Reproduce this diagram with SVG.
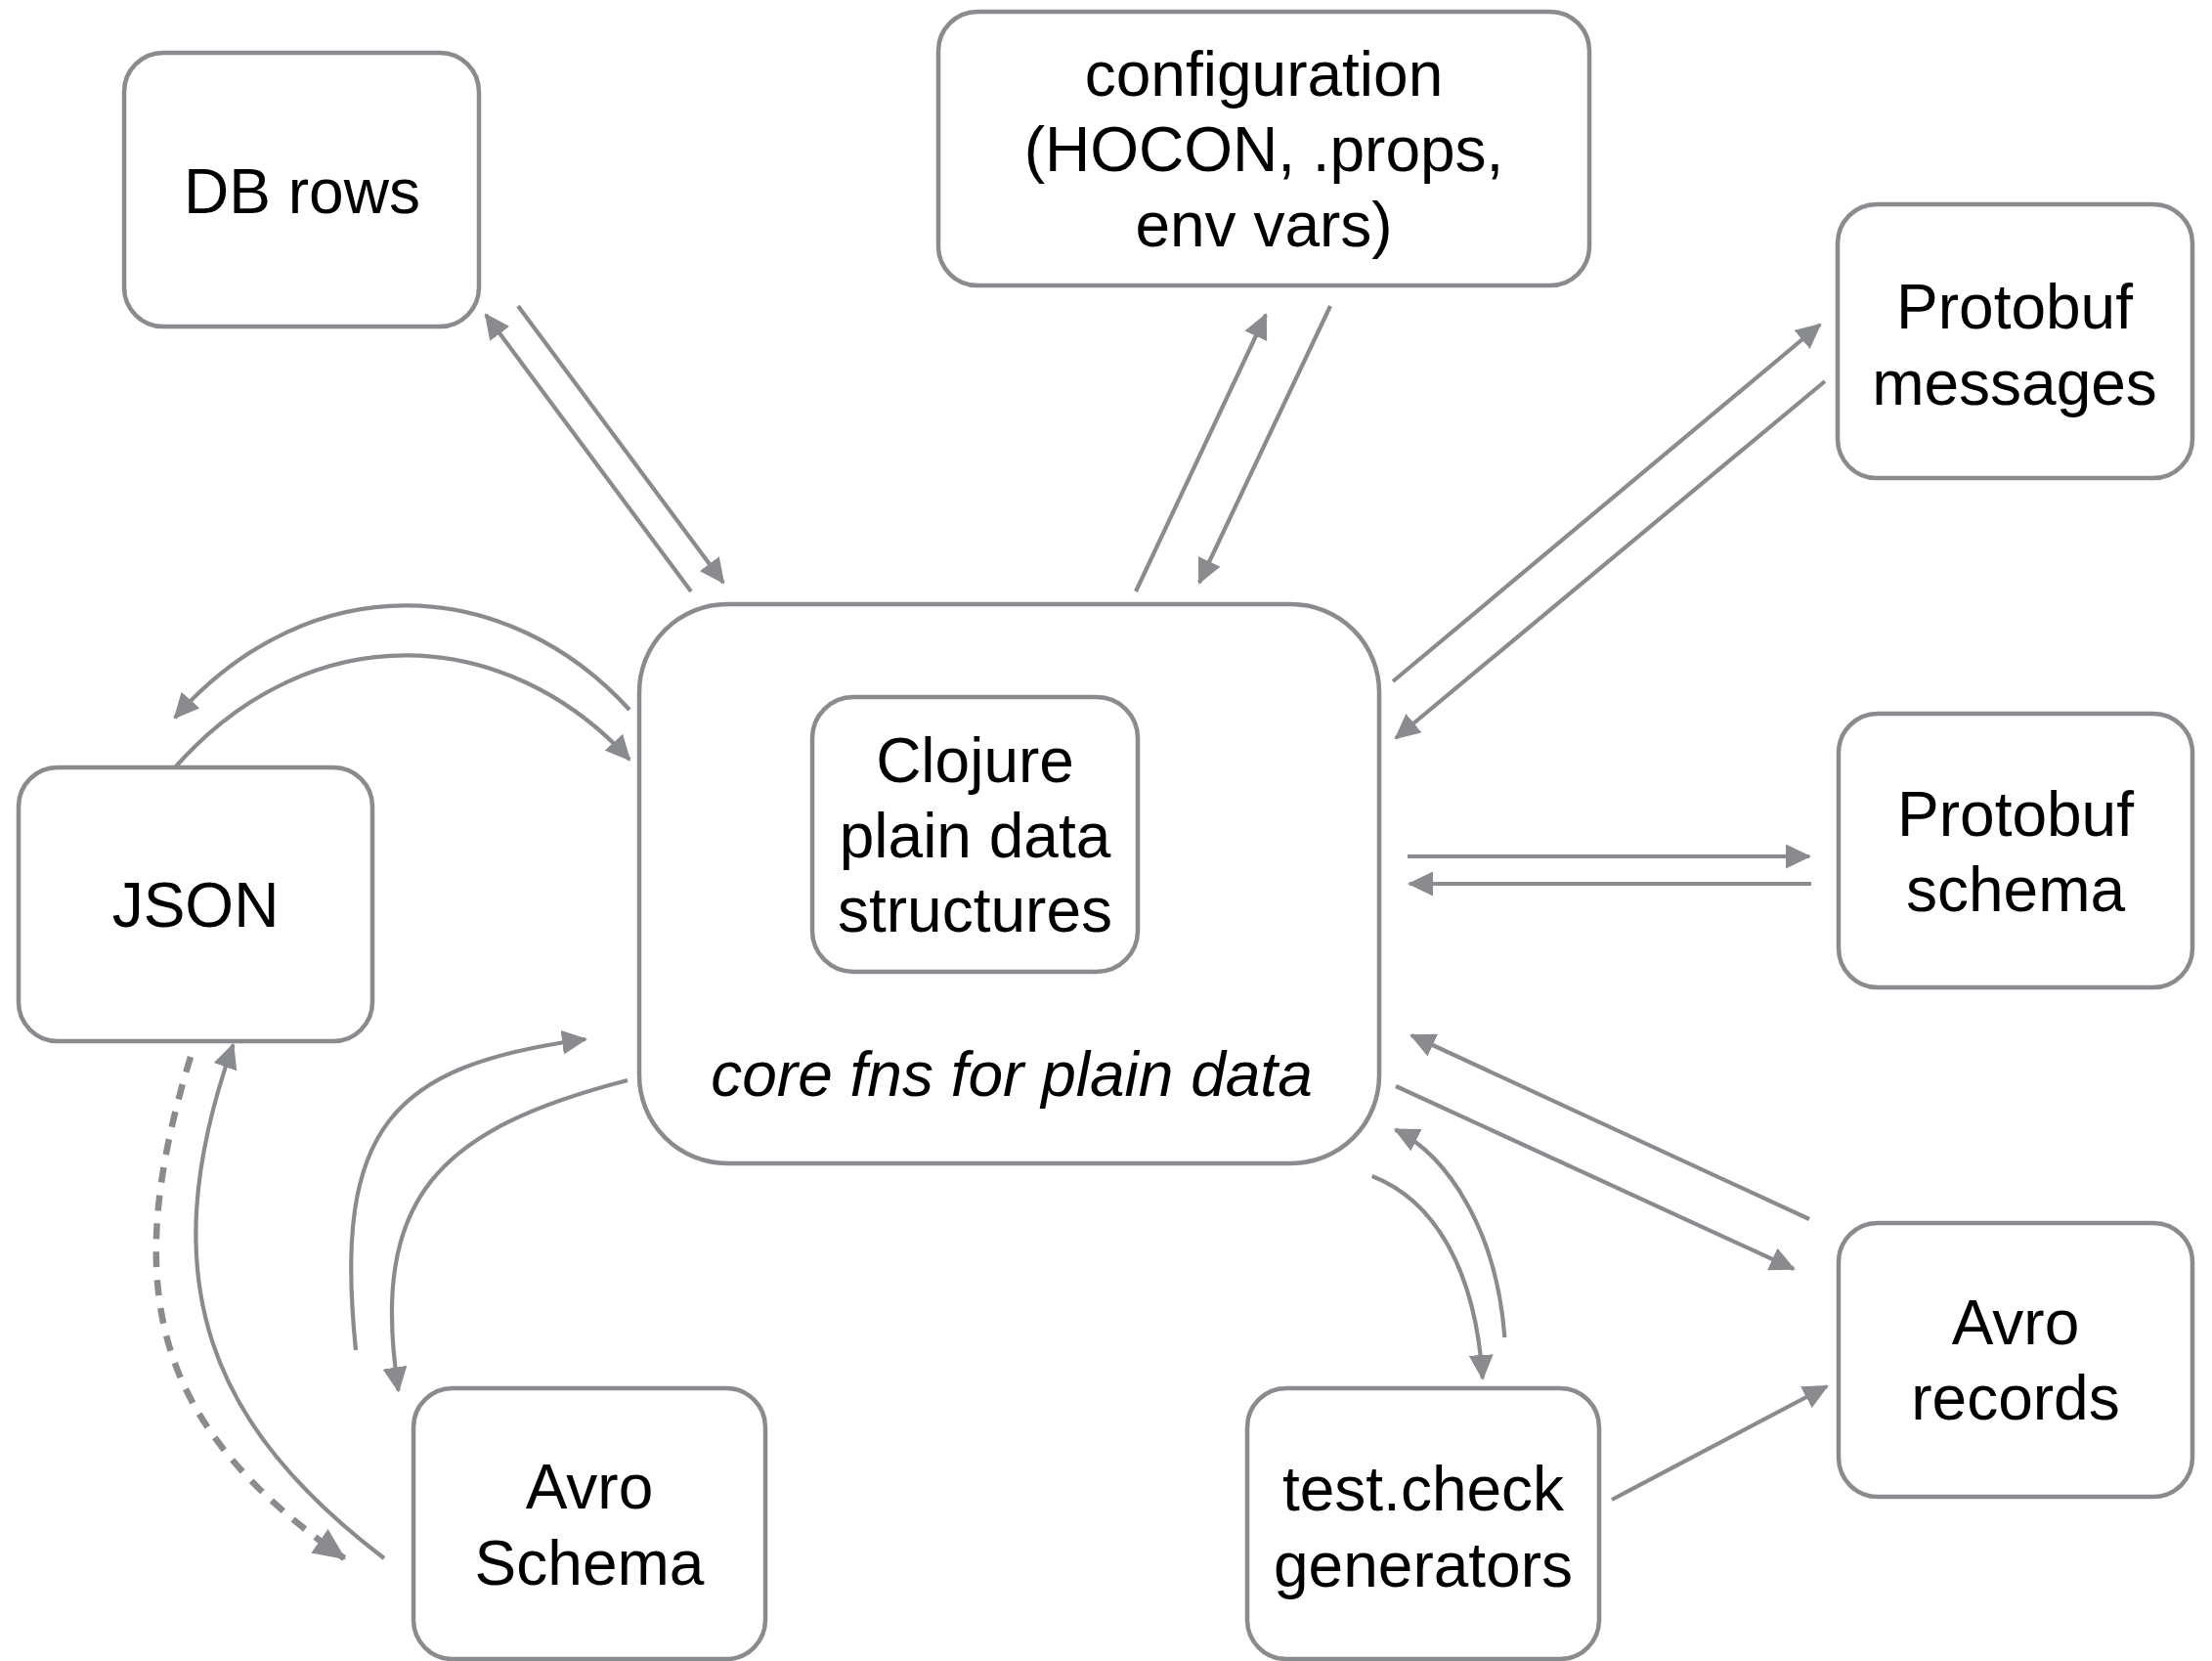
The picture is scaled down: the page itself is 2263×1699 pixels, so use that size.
<svg xmlns="http://www.w3.org/2000/svg" width="2263" height="1699" viewBox="0 0 2263 1699">
<style>
.box{fill:#fff;stroke:#898b8f;stroke-width:4.5}
.lbl{font-family:"Liberation Sans",Arial,sans-serif;font-size:64px;fill:#000;text-anchor:middle}
.it{font-style:italic}
.c{fill:none;stroke:#898b8f;stroke-width:4.2;marker-end:url(#ah)}
.d{fill:none;stroke:#898b8f;stroke-width:6.5;stroke-dasharray:16 13;marker-end:url(#ahb)}
</style>
<defs>
<marker id="ah" markerUnits="userSpaceOnUse" markerWidth="26" markerHeight="25" viewBox="0 0 26 25" refX="24" refY="12.5" orient="auto"><path d="M0,0 L26,12.5 L0,25 z" fill="#898b8f"/></marker>
<marker id="ahb" markerUnits="userSpaceOnUse" markerWidth="33" markerHeight="30" viewBox="0 0 33 30" refX="31" refY="15" orient="auto"><path d="M0,0 L33,15 L0,30 z" fill="#898b8f"/></marker>
</defs>
<rect width="2263" height="1699" fill="#fff"/>
<g id="connectors">
<path class="c" d="M707,605 L497,322"/>
<path class="c" d="M530,313 L740,596"/>
<path class="c" d="M1162,605 L1295,322"/>
<path class="c" d="M1361,313 L1227,596"/>
<path class="c" d="M1425,697 L1862,332"/>
<path class="c" d="M1867,390 L1428,755"/>
<path class="c" d="M1440,876 L1851,876"/>
<path class="c" d="M1853,904 L1442,904"/>
<path class="c" d="M1851,1247 L1444,1059"/>
<path class="c" d="M1428,1111 L1835,1298"/>
<path class="c" d="M1649,1534 L1869,1418"/>
<path class="c" d="M644,726 C520,590 320,575 179,734"/>
<path class="c" d="M179,785 C320,626 520,641 644,777"/>
<path class="c" d="M364,1381 C340.5,1152 400.8,1089.8 599,1063"/>
<path class="c" d="M642,1105 C448.4,1155 377.4,1224.7 407.6,1422.5"/>
<path class="c" d="M393,1594 C218,1460.5 151.4,1313.5 238.5,1068.6"/>
<path class="d" d="M195,1081 C118.8,1329.6 163.9,1462 352.3,1594"/>
<path class="c" d="M1539.4,1368 C1531.2,1258.3 1481.2,1182.3 1427.6,1155.5"/>
<path class="c" d="M1403.7,1203 C1468.8,1228.5 1509.6,1300.2 1516.8,1410"/>
</g>
<g id="core">
<rect class="box" x="654" y="618" width="757" height="572" rx="90"/>
<text class="lbl it" x="1035" y="1121">core fns for plain data</text>
</g>
<g id="clojure">
<rect class="box" x="831" y="713" width="333" height="281" rx="42"/>
<text class="lbl" x="997.5" y="800">Clojure</text>
<text class="lbl" x="997.5" y="877">plain data</text>
<text class="lbl" x="997.5" y="953">structures</text>
</g>
<g id="dbrows">
<rect class="box" x="127" y="54" width="363" height="280" rx="40"/>
<text class="lbl" x="309" y="218">DB rows</text>
</g>
<g id="config">
<rect class="box" x="960" y="12" width="666" height="280" rx="40"/>
<text class="lbl" x="1293" y="98">configuration</text>
<text class="lbl" x="1293" y="175">(HOCON, .props,</text>
<text class="lbl" x="1293" y="252">env vars)</text>
</g>
<g id="pbmessages">
<rect class="box" x="1880" y="209" width="363" height="280" rx="40"/>
<text class="lbl" x="2061" y="336">Protobuf</text>
<text class="lbl" x="2061" y="414">messages</text>
</g>
<g id="pbschema">
<rect class="box" x="1881" y="730" width="362" height="280" rx="40"/>
<text class="lbl" x="2062" y="855">Protobuf</text>
<text class="lbl" x="2062" y="932">schema</text>
</g>
<g id="avrorecords">
<rect class="box" x="1881" y="1251" width="362" height="280" rx="40"/>
<text class="lbl" x="2062" y="1375">Avro</text>
<text class="lbl" x="2062" y="1452">records</text>
</g>
<g id="testcheck">
<rect class="box" x="1276" y="1420" width="360" height="277" rx="40"/>
<text class="lbl" x="1456" y="1545">test.check</text>
<text class="lbl" x="1456" y="1623">generators</text>
</g>
<g id="avroschema">
<rect class="box" x="423" y="1420" width="360" height="277" rx="40"/>
<text class="lbl" x="603" y="1543">Avro</text>
<text class="lbl" x="603" y="1621">Schema</text>
</g>
<g id="json">
<rect class="box" x="19" y="785" width="362" height="280" rx="40"/>
<text class="lbl" x="200" y="948">JSON</text>
</g>
</svg>
